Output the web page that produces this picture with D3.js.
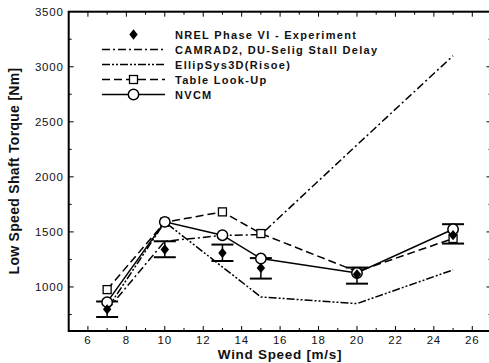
<!DOCTYPE html>
<html lang="en">
  <head>
    <meta charset="UTF-8" />
    <script src="https://cdn.jsdelivr.net/npm/d3@7"></script>
    <style>
      body { margin: 0; background: #fff; }
      text { font-family: "Liberation Sans", Arial, sans-serif; fill: #111; }
    </style>
  </head>
  <body>
    <div id="fig"></div>
    <script>
      const width = 489, height = 363;

      // wind speeds [m/s]
      const windSpeed = [7, 10, 13, 15, 20, 25];

      // measured torque with error bounds
      const expTorque = [797, 1340, 1309, 1173, 1115, 1470];
      const expUpper = [868, 1415, 1385, 1262, 1176, 1570];
      const expLower = [727, 1270, 1236, 1076, 1030, 1394];

      const camradX = [7, 10, 13, 15, 20, 25];
      const camradY = [790, 1415, 1468, 1475, 2290, 3100];

      const ellipX = [7, 10, 15, 20, 25];
      const ellipY = [800, 1590, 909, 849, 1155];

      const tableY = [976, 1588, 1682, 1485, 1140, 1440];
      const nvcmY = [862, 1591, 1470, 1258, 1127, 1524];

      const legendLabels = [
        "NREL Phase VI - Experiment",
        "CAMRAD2, DU-Selig Stall Delay",
        "EllipSys3D(Risoe)",
        "Table Look-Up",
        "NVCM",
      ];

      const xTicks = [6, 8, 10, 12, 14, 16, 18, 20, 22, 24, 26];
      const yTicks = [1000, 1500, 2000, 2500, 3000, 3500];

      const margins = { top: 11.7, bottom: 32, left: 68.7, right: -2.5 };

      const x = d3.scaleLinear().domain([5, 27]).range([margins.left, width - margins.right]);
      const y = d3.scaleLinear().domain([600, 3500]).range([height - margins.bottom, margins.top]);

      const svg = d3.select("#fig").append("svg")
        .attr("width", width).attr("height", height);

      const dashCamrad = "8,3,2,3";
      const dashEllip = "8,2,2,2,2,2";
      const dashTable = "8,4";

      // axes - ticks point inward
      const minorX = d3.range(5, 28, 1);
      const minorY = d3.range(750, 3500, 250);

      const axisG = svg.append("g").attr("stroke", "#000");
      minorX.forEach((v) => {
        const len = v % 2 === 0 ? 5 : 3;
        axisG.append("line").attr("x1", x(v)).attr("x2", x(v))
          .attr("y1", y.range()[0]).attr("y2", y.range()[0] - len).attr("stroke-width", 1);
        axisG.append("line").attr("x1", x(v)).attr("x2", x(v))
          .attr("y1", y.range()[1]).attr("y2", y.range()[1] + len).attr("stroke-width", 1);
      });
      minorY.forEach((v) => {
        const len = v % 500 === 0 ? 5 : 3;
        axisG.append("line").attr("x1", x.range()[0]).attr("x2", x.range()[0] + len)
          .attr("y1", y(v)).attr("y2", y(v)).attr("stroke-width", 1);
        axisG.append("line").attr("x1", x.range()[1]).attr("x2", x.range()[1] - len)
          .attr("y1", y(v)).attr("y2", y(v)).attr("stroke-width", 1);
      });
      axisG.append("rect")
        .attr("x", x.range()[0]).attr("y", y.range()[1])
        .attr("width", x.range()[1] - x.range()[0])
        .attr("height", y.range()[0] - y.range()[1])
        .attr("fill", "none").attr("stroke-width", 2);

      svg.append("g").selectAll("text").data(xTicks).join("text")
        .attr("x", (d) => x(d)).attr("y", y.range()[0] + 12.5)
        .attr("text-anchor", "middle").style("font-size", "11.5px")
        .style("letter-spacing", "0.8px")
        .text((d) => d);

      svg.append("g").selectAll("text").data(yTicks).join("text")
        .attr("x", x.range()[0] - 5).attr("y", (d) => y(d) + 4)
        .attr("text-anchor", "end").style("font-size", "11.5px")
        .style("letter-spacing", "0.8px")
        .text((d) => d);

      svg.append("text").attr("x", 280).attr("y", 359)
        .attr("text-anchor", "middle").style("font-size", "13.5px").style("font-weight", "bold")
        .style("letter-spacing", "0.7px")
        .text("Wind Speed [m/s]");

      svg.append("text").attr("transform", "translate(19,171) rotate(-90)")
        .attr("text-anchor", "middle").style("font-size", "14px").style("font-weight", "bold")
        .style("letter-spacing", "0.3px")
        .text("Low Speed Shaft Torque [Nm]");

      // lines
      const line = d3.line().x((d) => x(d[0])).y((d) => y(d[1]));
      const plot = svg.append("g").attr("fill", "none").attr("stroke", "#000").attr("stroke-width", 1.5);

      plot.append("path").datum(d3.zip(camradX, camradY)).attr("d", line).attr("stroke-dasharray", dashCamrad);
      plot.append("path").datum(d3.zip(ellipX, ellipY)).attr("d", line).attr("stroke-dasharray", dashEllip);
      plot.append("path").datum(d3.zip(windSpeed, tableY)).attr("d", line).attr("stroke-dasharray", dashTable);
      plot.append("path").datum(d3.zip(windSpeed, nvcmY)).attr("d", line);

      // error bars
      const eb = svg.append("g").attr("stroke", "#000");
      windSpeed.forEach((w, i) => {
        eb.append("line").attr("x1", x(w)).attr("x2", x(w))
          .attr("y1", y(expUpper[i])).attr("y2", y(expLower[i])).attr("stroke-width", 1.5);
        [expUpper[i], expLower[i]].forEach((v) => {
          eb.append("line").attr("x1", x(w) - 11).attr("x2", x(w) + 11)
            .attr("y1", y(v)).attr("y2", y(v)).attr("stroke-width", 2);
        });
      });

      // markers
      const diamond = d3.symbol().type(d3.symbolDiamond2).size(56);
      const mk = svg.append("g");
      mk.selectAll("rect").data(d3.zip(windSpeed, tableY)).join("rect")
        .attr("x", (d) => x(d[0]) - 4).attr("y", (d) => y(d[1]) - 4)
        .attr("width", 8).attr("height", 8)
        .attr("fill", "#fff").attr("stroke", "#000").attr("stroke-width", 1.3);
      mk.selectAll("circle").data(d3.zip(windSpeed, nvcmY)).join("circle")
        .attr("cx", (d) => x(d[0])).attr("cy", (d) => y(d[1])).attr("r", 5.2)
        .attr("fill", "#fff").attr("stroke", "#000").attr("stroke-width", 1.5);
      mk.selectAll("path").data(d3.zip(windSpeed, expTorque)).join("path")
        .attr("d", diamond)
        .attr("transform", (d) => `translate(${x(d[0])},${y(d[1])}) scale(0.9,1.1)`)
        .attr("fill", "#000");

      // legend
      const lg = svg.append("g");
      const lx0 = 102, lx1 = 165, lcx = 133.5, ltx = 175;
      legendLabels.forEach((lab, i) => {
        const ly = 34.5 + i * 15;
        lg.append("text").attr("x", ltx).attr("y", ly + 4)
          .style("font-size", "11px").style("font-weight", "bold")
          .style("letter-spacing", "1.3px").text(lab);
        if (i === 0) {
          lg.append("path").attr("d", diamond)
            .attr("transform", `translate(${lcx},${ly}) scale(0.9,1.1)`).attr("fill", "#000");
          return;
        }
        const dash = [null, dashCamrad, dashEllip, dashTable, null][i];
        lg.append("line").attr("x1", lx0).attr("x2", lx1).attr("y1", ly).attr("y2", ly)
          .attr("stroke", "#000").attr("stroke-width", 1.5)
          .attr("stroke-dasharray", dash);
        if (i === 3) {
          lg.append("rect").attr("x", lcx - 4).attr("y", ly - 4).attr("width", 8).attr("height", 8)
            .attr("fill", "#fff").attr("stroke", "#000").attr("stroke-width", 1.3);
        }
        if (i === 4) {
          lg.append("circle").attr("cx", lcx).attr("cy", ly).attr("r", 5.2)
            .attr("fill", "#fff").attr("stroke", "#000").attr("stroke-width", 1.5);
        }
      });
    </script>
  </body>
</html>
